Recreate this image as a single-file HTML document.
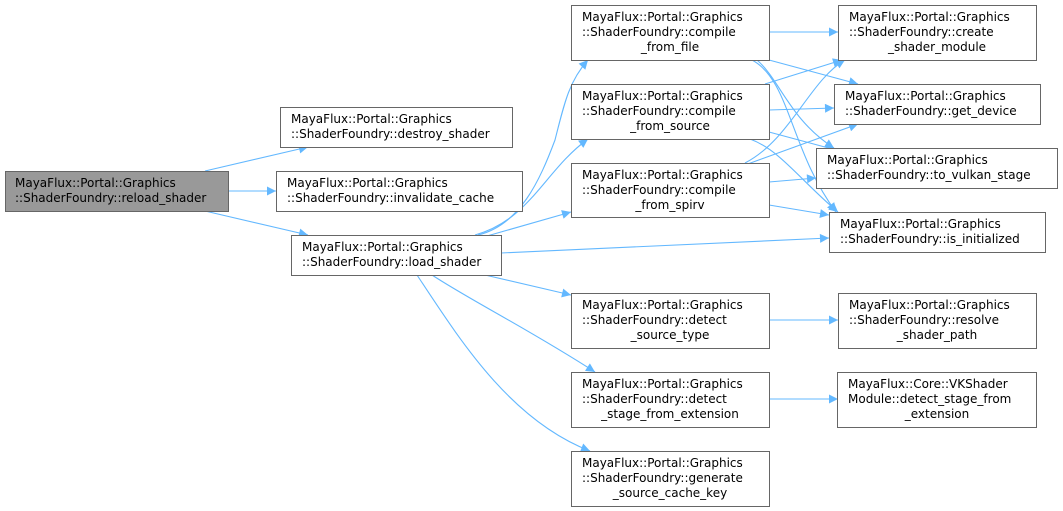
<!DOCTYPE html>
<html><head><meta charset="utf-8"><style>
html,body{margin:0;padding:0;background:#fff}
svg{display:block}
text{font-family:"DejaVu Sans","Liberation Sans",sans-serif;font-size:12px;fill:#000}
.n{fill:#fff;stroke:#666;stroke-width:1}
.e{fill:none;stroke:#63b8ff;stroke-width:1.1}
</style></head><body>
<svg width="1063" height="511" viewBox="0 0 1063 511" xmlns="http://www.w3.org/2000/svg">
<defs><marker id="a" viewBox="0 0 10 10" refX="10" refY="5" markerWidth="13" markerHeight="9" orient="auto" markerUnits="userSpaceOnUse"><path d="M0,0L10,5L0,10z" fill="#63b8ff"/></marker></defs>
<g class="e" marker-end="url(#a)">
<path d="M205,171 L308,147"/>
<path d="M229,191 L276,191"/>
<path d="M205,211 L308,235"/>
<path d="M478,235 C520,225 540,180 555,140 C565,100 570,80 588,60"/>
<path d="M475,235 C530,220 545,170 588,139"/>
<path d="M480,238 L571,212"/>
<path d="M501,253 L829,238"/>
<path d="M485,275 L571,295"/>
<path d="M432,275 C470,300 530,330 595,372"/>
<path d="M417,275 C460,340 510,420 590,451"/>
<path d="M769,32 L838,32"/>
<path d="M769,60 L858,84"/>
<path d="M752,60 C790,80 790,150 836,212"/>
<path d="M757,60 C780,80 790,120 834,148"/>
<path d="M765,84 L842,60"/>
<path d="M769,110 L834,108"/>
<path d="M769,132 L836,150"/>
<path d="M750,139 C780,150 800,180 838,212"/>
<path d="M745,163 C790,140 810,80 845,60"/>
<path d="M745,165 L858,124"/>
<path d="M769,182 L816,178"/>
<path d="M769,205 L829,215"/>
<path d="M769,320 L838,320"/>
<path d="M769,399 L838,399"/>
</g>
<rect x="5.5" y="171.5" width="223" height="40" fill="#999" stroke="#666"/>
<text x="15" y="187">MayaFlux::Portal::Graphics</text><text x="15" y="202">::ShaderFoundry::reload_shader</text>
<rect class="n" x="280.5" y="107.5" width="232" height="40"/>
<text x="291" y="123">MayaFlux::Portal::Graphics</text><text x="291" y="138">::ShaderFoundry::destroy_shader</text>
<rect class="n" x="276.5" y="171.5" width="246" height="40"/>
<text x="287" y="187">MayaFlux::Portal::Graphics</text><text x="287" y="202">::ShaderFoundry::invalidate_cache</text>
<rect class="n" x="291.5" y="235.5" width="210" height="40"/>
<text x="302" y="251">MayaFlux::Portal::Graphics</text><text x="302" y="266">::ShaderFoundry::load_shader</text>
<g>
<rect class="n" x="571.5" y="5.5" width="198" height="55"/>
<text x="582" y="21">MayaFlux::Portal::Graphics</text><text x="582" y="36">::ShaderFoundry::compile</text><text x="670" y="51" text-anchor="middle">_from_file</text>
<rect class="n" x="571.5" y="84.5" width="198" height="55"/>
<text x="582" y="100">MayaFlux::Portal::Graphics</text><text x="582" y="115">::ShaderFoundry::compile</text><text x="670" y="130" text-anchor="middle">_from_source</text>
<rect class="n" x="571.5" y="163.5" width="198" height="54"/>
<text x="582" y="179">MayaFlux::Portal::Graphics</text><text x="582" y="194">::ShaderFoundry::compile</text><text x="670" y="209" text-anchor="middle">_from_spirv</text>
<rect class="n" x="571.5" y="293.5" width="198" height="55"/>
<text x="582" y="309">MayaFlux::Portal::Graphics</text><text x="582" y="324">::ShaderFoundry::detect</text><text x="670" y="339" text-anchor="middle">_source_type</text>
<rect class="n" x="571.5" y="372.5" width="198" height="55"/>
<text x="582" y="388">MayaFlux::Portal::Graphics</text><text x="582" y="403">::ShaderFoundry::detect</text><text x="670" y="418" text-anchor="middle">_stage_from_extension</text>
<rect class="n" x="571.5" y="451.5" width="198" height="55"/>
<text x="582" y="467">MayaFlux::Portal::Graphics</text><text x="582" y="482">::ShaderFoundry::generate</text><text x="670" y="497" text-anchor="middle">_source_cache_key</text>
<rect class="n" x="838.5" y="5.5" width="198" height="55"/>
<text x="849" y="21">MayaFlux::Portal::Graphics</text><text x="849" y="36">::ShaderFoundry::create</text><text x="937" y="51" text-anchor="middle">_shader_module</text>
<rect class="n" x="834.5" y="84.5" width="206" height="40"/>
<text x="845" y="100">MayaFlux::Portal::Graphics</text><text x="845" y="115">::ShaderFoundry::get_device</text>
<rect class="n" x="816.5" y="148.5" width="241" height="40"/>
<text x="827" y="164">MayaFlux::Portal::Graphics</text><text x="827" y="179">::ShaderFoundry::to_vulkan_stage</text>
<rect class="n" x="829.5" y="212.5" width="216" height="40"/>
<text x="840" y="228">MayaFlux::Portal::Graphics</text><text x="840" y="243">::ShaderFoundry::is_initialized</text>
<rect class="n" x="838.5" y="293.5" width="198" height="55"/>
<text x="849" y="309">MayaFlux::Portal::Graphics</text><text x="849" y="324">::ShaderFoundry::resolve</text><text x="937" y="339" text-anchor="middle">_shader_path</text>
<rect class="n" x="837.5" y="372.5" width="199" height="55"/>
<text x="848" y="388">MayaFlux::Core::VKShader</text><text x="848" y="403">Module::detect_stage_from</text><text x="937" y="418" text-anchor="middle">_extension</text>
</g>
</svg>
</body></html>
